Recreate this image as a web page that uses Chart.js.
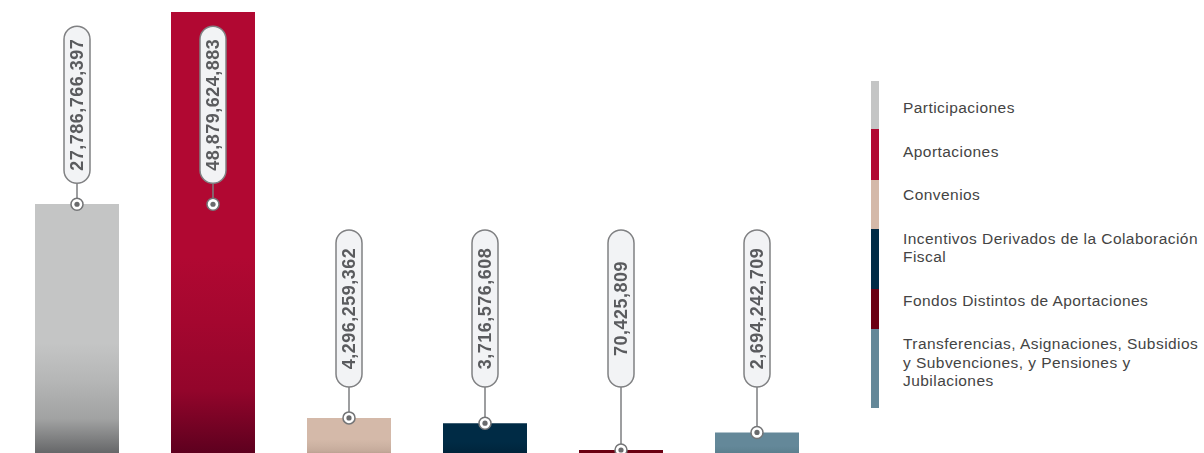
<!DOCTYPE html>
<html>
<head>
<meta charset="utf-8">
<script src="https://cdn.jsdelivr.net/npm/chart.js@4.4.1/dist/chart.umd.min.js"></script>
<style>
  html, body { margin:0; padding:0; background:#fff; overflow:hidden; width:1204px; height:453px; }
  #wrap { position:absolute; left:0; top:0; width:840px; height:460px; }
  #legend { position:absolute; left:871px; top:81px; width:333px; height:330px; font-family:"Liberation Sans", Arial, sans-serif; }
  #stripe { position:absolute; left:0; top:0; width:8px; }
  #stripe div { width:8px; }
  #stripe div:nth-child(1) { height:48px; }
  #stripe div:nth-child(2) { height:51px; }
  #stripe div:nth-child(3) { height:49px; }
  #stripe div:nth-child(4) { height:60px; }
  #stripe div:nth-child(5) { height:40px; }
  #stripe div:nth-child(6) { height:79px; }
  #texts { position:absolute; left:32px; top:18px; width:302px; }
  #texts div { font-size:15.5px; letter-spacing:0.45px; line-height:18.5px; color:#444; margin-bottom:25px; }
</style>
</head>
<body>
<div id="wrap"><canvas id="chart" width="840" height="460"></canvas></div>
<div id="legend"><div id="stripe"></div><div id="texts"></div></div>
<script>
// data
const categories = ['Participaciones', 'Aportaciones', 'Convenios', 'Incentivos Derivados de la Colaboración Fiscal', 'Fondos Distintos de Aportaciones', 'Transferencias, Asignaciones, Subsidios y Subvenciones, y Pensiones y Jubilaciones'];
const amounts = [27786766397, 48879624883, 4296259362, 3716576608, 70425809, 2694242709];
const topColors = ['#c4c5c5', '#b10832', '#d4b9a9', '#002b45', '#6b0012', '#648899'];
const bottomColors = ['#5f6062', '#5a001e', '#a88f80', '#001a2c', '#40000a', '#4c6a78'];

function hexToRgb(h) {
  const n = parseInt(h.slice(1), 16);
  return [(n >> 16) & 255, (n >> 8) & 255, n & 255];
}
function mix(a, b, t) {
  const x = hexToRgb(a), y = hexToRgb(b);
  return 'rgb(' + x.map((v, i) => Math.round(v + (y[i] - v) * t)).join(',') + ')';
}

// legend
const stripe = document.getElementById('stripe');
const texts = document.getElementById('texts');
categories.forEach((c, i) => {
  const s = document.createElement('div');
  s.style.background = topColors[i];
  stripe.appendChild(s);
  const t = document.createElement('div');
  t.textContent = c;
  texts.appendChild(t);
});

// pill labels with connector and dot
const pillPlugin = {
  id: 'pills',
  afterDatasetsDraw(chart) {
    const ctx = chart.ctx;
    const area = chart.chartArea;
    const meta = chart.getDatasetMeta(0);
    meta.data.forEach((bar, i) => {
      const x = bar.x;
      let dotY, pillBottom;
      if (bar.y < area.top + area.height * 0.5) {
        dotY = Math.max(bar.y, area.top + area.height * 0.432);
        pillBottom = dotY - 21;
      } else {
        dotY = bar.y;
        pillBottom = area.bottom - 70;
      }
      const pillH = 157, pillW = 26;
      const pillTop = pillBottom - pillH;
      ctx.save();
      // connector
      ctx.strokeStyle = '#7d7e80';
      ctx.lineWidth = 1.5;
      ctx.beginPath();
      ctx.moveTo(x, pillBottom);
      ctx.lineTo(x, dotY - 6);
      ctx.stroke();
      // pill
      ctx.beginPath();
      ctx.roundRect(x - pillW / 2, pillTop, pillW, pillH, pillW / 2);
      ctx.fillStyle = '#f2f3f5';
      ctx.fill();
      ctx.lineWidth = 1.5;
      ctx.strokeStyle = '#808183';
      ctx.stroke();
      // text
      ctx.translate(x, pillTop + pillH / 2);
      ctx.rotate(-Math.PI / 2);
      ctx.fillStyle = '#5a5b5e';
      ctx.font = 'bold 18px "Liberation Sans", Arial, sans-serif';
      ctx.letterSpacing = '0.5px';
      ctx.textAlign = 'center';
      ctx.textBaseline = 'middle';
      ctx.fillText(amounts[i].toLocaleString('en-US'), 0, 1);
      ctx.restore();
      // dot
      ctx.save();
      ctx.beginPath();
      ctx.arc(x, dotY, 6, 0, Math.PI * 2);
      ctx.fillStyle = '#ffffff';
      ctx.fill();
      ctx.lineWidth = 1.5;
      ctx.strokeStyle = '#747577';
      ctx.stroke();
      ctx.beginPath();
      ctx.arc(x, dotY, 2.6, 0, Math.PI * 2);
      ctx.fillStyle = '#6a6b6d';
      ctx.fill();
      ctx.restore();
    });
  }
};

function barFill(context) {
  const chart = context.chart;
  const area = chart.chartArea;
  const i = context.dataIndex;
  if (!area) return topColors[i];
  let top = chart.scales.y.getPixelForValue(amounts[i]);
  if (area.bottom - top < 7) top = area.bottom - 7;
  const g = chart.ctx.createLinearGradient(0, top, 0, area.bottom);
  g.addColorStop(0, topColors[i]);
  g.addColorStop(0.55, topColors[i]);
  g.addColorStop(0.7, mix(topColors[i], bottomColors[i], 0.15));
  g.addColorStop(0.85, mix(topColors[i], bottomColors[i], 0.35));
  g.addColorStop(1, bottomColors[i]);
  return g;
}

new Chart(document.getElementById('chart'), {
  type: 'bar',
  data: {
    labels: categories,
    datasets: [{
      data: amounts,
      backgroundColor: barFill,
      borderWidth: 0,
      minBarLength: 7,
      barPercentage: 0.6176,
      categoryPercentage: 1
    }]
  },
  options: {
    responsive: false,
    animation: false,
    layout: { padding: { left: 9, right: 15, top: 12, bottom: 3 } },
    scales: {
      x: { display: false },
      y: { display: false, min: 0, max: 48879624883 }
    },
    plugins: { legend: { display: false }, tooltip: { enabled: false } }
  },
  plugins: [pillPlugin]
});
</script>
</body>
</html>
